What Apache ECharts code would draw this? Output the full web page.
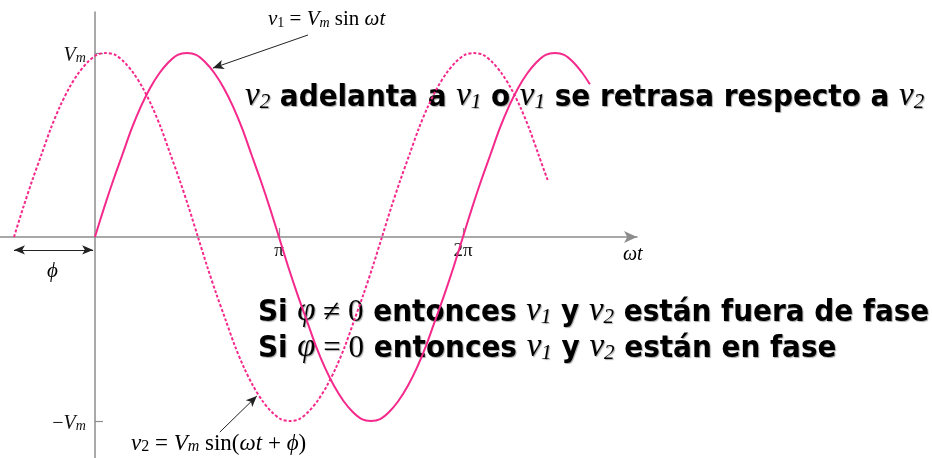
<!DOCTYPE html>
<html><head><meta charset="utf-8">
<script src="https://cdn.jsdelivr.net/npm/echarts@6/dist/echarts.min.js"></script>
<style>html,body{margin:0;padding:0;background:#fff}#c{width:932px;height:458px}</style>
</head><body><div id="c"></div>
<script>
// ωt expressed in units of π; voltages in units of Vm
const v1X = [0,0.05,0.1,0.15,0.2,0.25,0.3,0.35,0.4,0.45,0.5,0.55,0.6,0.65,0.7,0.75,0.8,0.85,0.9,0.95,1.0,
             1.05,1.1,1.15,1.2,1.25,1.3,1.35,1.4,1.45,1.5,1.55,1.6,1.65,1.7,1.75,1.8,1.85,1.9,1.95,2.0,
             2.05,2.1,2.15,2.2,2.25,2.3,2.35,2.4,2.45,2.5,2.55,2.6,2.65,2.69];
const v1Y = [0,0.16,0.31,0.45,0.59,0.71,0.81,0.89,0.95,0.99,1,0.99,0.95,0.89,0.81,0.71,0.59,0.45,0.31,0.16,0,
             -0.16,-0.31,-0.45,-0.59,-0.71,-0.81,-0.89,-0.95,-0.99,-1,-0.99,-0.95,-0.89,-0.81,-0.71,-0.59,-0.45,-0.31,-0.16,0,
             0.16,0.31,0.45,0.59,0.71,0.81,0.89,0.95,0.99,1,0.99,0.95,0.89,0.83];
const v2X = [-0.44,-0.39,-0.34,-0.29,-0.24,-0.19,-0.14,-0.09,-0.04,0.01,0.06,0.11,0.16,0.21,0.26,0.31,0.36,0.41,0.46,0.51,0.56,
             0.61,0.66,0.71,0.76,0.81,0.86,0.91,0.96,1.01,1.06,1.11,1.16,1.21,1.26,1.31,1.36,1.41,1.46,1.51,1.56,
             1.61,1.66,1.71,1.76,1.81,1.86,1.91,1.96,2.01,2.06,2.11,2.16,2.21,2.26,2.31,2.36,2.41,2.46];
const v2Y = [0,0.16,0.31,0.45,0.59,0.71,0.81,0.89,0.95,0.99,1,0.99,0.95,0.89,0.81,0.71,0.59,0.45,0.31,0.16,0,
             -0.16,-0.31,-0.45,-0.59,-0.71,-0.81,-0.89,-0.95,-0.99,-1,-0.99,-0.95,-0.89,-0.81,-0.71,-0.59,-0.45,-0.31,-0.16,0,
             0.16,0.31,0.45,0.59,0.71,0.81,0.89,0.95,0.99,1,0.99,0.95,0.89,0.81,0.71,0.59,0.45,0.31];
const xTickValues = [1, 2];
const xTickLabels = ['π', '2π'];
const yTickValues = [-1, 1];
const yTickLabels = ['{r|−}{i|V}{s|m}', '{i|V}{s|m}'];

const PINK = '#f5288b';
const AX = '#8c8c8c';
const serif = '"Liberation Serif", "DejaVu Serif", serif';
const sans = '"DejaVu Sans Condensed", "DejaVu Sans", sans-serif';

const chart = echarts.init(document.getElementById('c'), null, {renderer: 'canvas'});

function mathRichOf(fs) {
  return {
    i: {fontFamily: serif, fontStyle: 'italic', fontSize: fs, color: '#111', lineHeight: fs + 5, verticalAlign: 'bottom'},
    r: {fontFamily: serif, fontSize: fs, color: '#111', lineHeight: fs + 5, verticalAlign: 'bottom'},
    s: {fontFamily: serif, fontStyle: 'italic', fontSize: Math.round(fs * 0.68), color: '#111', lineHeight: Math.round(fs * 0.8), verticalAlign: 'bottom'},
    sr: {fontFamily: serif, fontSize: Math.round(fs * 0.68), color: '#111', lineHeight: Math.round(fs * 0.8), verticalAlign: 'bottom'}
  };
}
const mathRich = mathRichOf(20);

const sh = {textShadowColor: 'rgba(0,0,0,0.35)', textShadowOffsetX: 1, textShadowOffsetY: 1, textShadowBlur: 1};
const bigRich = {
  b: Object.assign({fontFamily: sans, fontWeight: 'bold', fontSize: 31, color: '#000', lineHeight: 38, verticalAlign: 'bottom'}, sh),
  v: Object.assign({fontFamily: serif, fontStyle: 'italic', fontSize: 33, color: '#000', lineHeight: 38, verticalAlign: 'bottom'}, sh),
  m: Object.assign({fontFamily: serif, fontSize: 31, color: '#000', lineHeight: 38, verticalAlign: 'bottom'}, sh),
  vs: Object.assign({fontFamily: serif, fontStyle: 'italic', fontSize: 21, color: '#000', lineHeight: 24, verticalAlign: 'bottom'}, sh)
};

const option = {
  backgroundColor: '#fff',
  animation: false,
  grid: {left: 0, top: 12, width: 637, height: 446, containLabel: false, outerBoundsMode: 'none'},
  xAxis: {
    type: 'value', min: -0.516, max: 2.946,
    splitLine: {show: false},
    axisLine: {onZero: true, lineStyle: {color: AX, width: 1.5}, symbol: ['none', 'arrow'], symbolSize: [9, 13]},
    axisTick: {show: true, inside: true, length: 9, customValues: xTickValues, lineStyle: {color: AX, width: 1.2}},
    axisLabel: {show: false}
  },
  yAxis: {
    type: 'value', min: -1.201, max: 1.223,
    splitLine: {show: false},
    axisLine: {onZero: true, lineStyle: {color: AX, width: 1.5}},
    axisTick: {show: true, inside: true, length: 8, customValues: yTickValues, lineStyle: {color: AX, width: 1.2}},
    axisLabel: {show: false}
  },
  series: [
    {
      name: 'v1', type: 'line', smooth: 0.3, showSymbol: false, silent: true,
      data: v1X.map((x, i) => [x, v1Y[i]]),
      lineStyle: {color: PINK, width: 2},
      markLine: {
        silent: true, symbol: ['none', 'arrow'], symbolSize: [7, 11], label: {show: false},
        lineStyle: {color: '#222', width: 1, type: 'solid'},
        data: [[{coord: [1.158, 1.098]}, {coord: [0.641, 0.918]}]]
      }
    },
    {
      name: 'v2', type: 'line', smooth: 0.3, showSymbol: false, silent: true,
      data: v2X.map((x, i) => [x, v2Y[i]]),
      lineStyle: {color: PINK, width: 2, type: [3, 2]},
      markLine: {
        silent: true, symbol: ['none', 'arrow'], symbolSize: [7, 11], label: {show: false},
        lineStyle: {color: '#222', width: 1, type: 'solid'},
        data: [[{coord: [0.679, -1.06]}, {coord: [0.88, -0.864]}]]
      }
    },
    {
      name: 'phi', type: 'line', data: [], silent: true,
      markLine: {
        silent: true, symbol: ['arrow', 'arrow'], symbolSize: [7, 11], label: {show: false},
        lineStyle: {color: '#222', width: 1, type: 'solid'},
        data: [[{coord: [-0.44, -0.07]}, {coord: [-0.01, -0.07]}]]
      }
    },
    {
      name: 'xticklabels', type: 'scatter', silent: true, symbolSize: 0,
      itemStyle: {opacity: 1},
      data: xTickValues.map(v => [v, 0]),
      label: {show: true, position: 'bottom', distance: 4, color: '#111', opacity: 1,
        formatter: p => xTickLabels[p.dataIndex],
        fontFamily: serif, fontSize: 19}
    },
    {
      name: 'yticklabels', type: 'scatter', silent: true, symbolSize: 0,
      itemStyle: {opacity: 1},
      data: yTickValues.map(v => [0, v]),
      label: {show: true, position: 'left', distance: 9, color: '#111', opacity: 1,
        formatter: p => yTickLabels[p.dataIndex], rich: mathRich}
    }
  ],
  graphic: [
    {type: 'text', left: 268, top: 9, silent: true,
     style: {text: '{i|v}{sr|1}{r| = }{i|V}{s|m}{r| sin }{i|ωt}', rich: mathRichOf(21)}},
    {type: 'text', left: 131, top: 432, silent: true,
     style: {text: '{i|v}{sr|2}{r| = }{i|V}{s|m}{r| sin(}{i|ωt}{r| + }{i|ϕ}{r|)}', rich: mathRichOf(23)}},
    {type: 'text', left: 623, top: 245, silent: true,
     style: {text: '{i|ωt}', rich: mathRich}},
    {type: 'text', left: 47, top: 261, silent: true,
     style: {text: '{i|ϕ}', rich: {i: {fontFamily: serif, fontStyle: 'italic', fontSize: 21, color: '#111'}}}},
    {type: 'text', left: 245, top: 80, silent: true,
     style: {text: '{v|v}{vs|2}{b| adelanta a }{v|v}{vs|1}{b| o }{v|v}{vs|1}{b| se retrasa respecto a }{v|v}{vs|2}', rich: bigRich}},
    {type: 'text', left: 258, top: 295, silent: true,
     style: {text: '{b|Si }{v|φ}{m| ≠ 0}{b| entonces }{v|v}{vs|1}{b| y }{v|v}{vs|2}{b| están fuera de fase}', rich: bigRich}},
    {type: 'text', left: 258, top: 331, silent: true,
     style: {text: '{b|Si }{v|φ}{m| = 0}{b| entonces }{v|v}{vs|1}{b| y }{v|v}{vs|2}{b| están en fase}', rich: bigRich}}
  ]
};
chart.setOption(option);
</script>
</body></html>
